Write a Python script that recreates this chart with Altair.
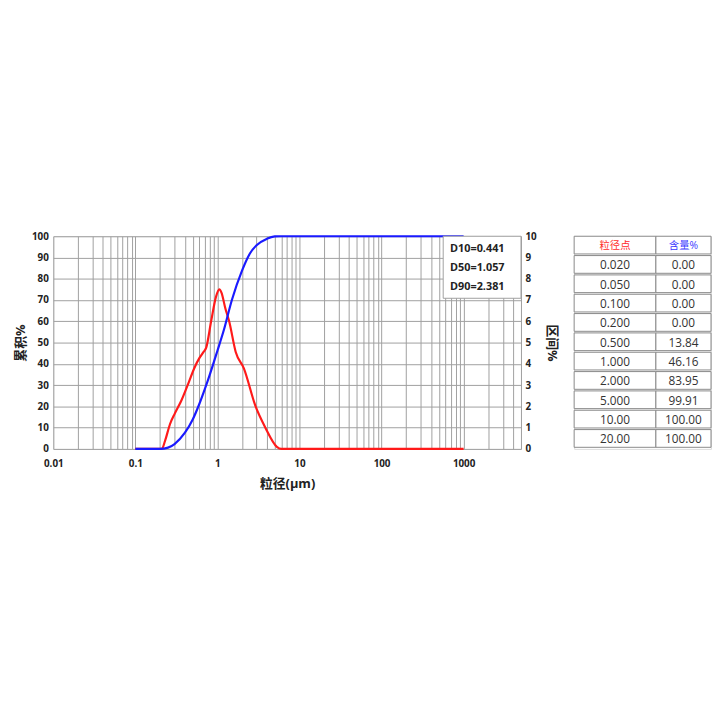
import altair as alt
import pandas as pd
import numpy as np

# ---- data ----
cum_size = [0.1, 0.2, 0.25, 0.3, 0.4, 0.5, 0.6, 0.7, 0.8, 1.0, 1.2, 1.5, 2.0, 2.5, 3.0, 4.0, 5.0, 6.0, 10, 100, 1000]
cum_pct = [0, 0, 0.6, 2.3, 7.5, 13.84, 21, 28, 34.5, 46.16, 56, 70, 83.95, 92, 95.8, 98.8, 99.91, 100, 100, 100, 100]

diff_size = [0.1, 0.2, 0.21, 0.23, 0.264, 0.303, 0.365, 0.44, 0.527, 0.607, 0.665, 0.73, 0.838, 0.96, 1.055,
             1.12, 1.25, 1.39, 1.67, 2.10, 2.91, 3.84, 5.3, 6.0, 10, 100, 1000]
diff_pct = [0, 0, 0, 0.38, 1.16, 1.67, 2.29, 3.06, 3.83, 4.29, 4.52, 4.76, 6.0, 7.15, 7.5,
            7.35, 6.6, 6.0, 4.56, 3.79, 2.01, 1.0, 0.1, 0, 0, 0, 0]

d_labels = ["D10=0.441", "D50=1.057", "D90=2.381"]

table_header = ["粒径点", "含量%"]
table_size = ["0.020", "0.050", "0.100", "0.200", "0.500", "1.000", "2.000", "5.000", "10.00", "20.00"]
table_content = ["0.00", "0.00", "0.00", "0.00", "13.84", "46.16", "83.95", "99.91", "100.00", "100.00"]

# ---- style ----
FONT = "Open Sans, Noto Sans CJK SC, sans-serif"
GRID = "#a0a0a0"
W, H = 475, 216
TW, TH = 139, 216
COL_W = [83, 56]

grid_vals = []
for e in range(-2, 4):
    for m in range(1, 10):
        grid_vals.append(float(f"{m}e{e}"))
grid_vals = [v for v in grid_vals if v <= 5000] + [2000.0, 3000.0, 4000.0, 5000.0]
grid_vals = sorted(set(grid_vals))

xscale = alt.Scale(type="log", domain=[0.01, 5000], nice=False)
xaxis = alt.Axis(values=grid_vals, labelExpr="abs(log(datum.value)/LN10 - round(log(datum.value)/LN10)) < 1e-6 && datum.value <= 1000 ? format(datum.value, '~g') : ''",
                 labelOverlap=False, labelFlush=False, ticks=False, domain=False, grid=True, gridColor=GRID, gridOpacity=1,
                 labelFont=FONT, labelFontWeight="bold", labelFontSize=10, labelPadding=10, labelColor="#222",
                 title="粒径(μm)", titleFont=FONT, titleFontSize=13, titleFontWeight="bold", titleColor="#222", titlePadding=9)

cum_df = pd.DataFrame({"size": cum_size, "pct": cum_pct})
diff_df = pd.DataFrame({"size": diff_size, "pct": diff_pct})

blue_axis = alt.Axis(orient="left", values=list(range(0, 101, 10)), ticks=False, domain=False, grid=True,
                     gridColor=GRID, gridOpacity=1,
                     labelFont=FONT, labelFontWeight="bold", labelFontSize=10, labelPadding=5, labelColor="#222",
                     labelFlush=False,
                     title="累积%", titleFont=FONT, titleFontSize=13, titleFontWeight="bold", titleColor="#222",
                     titlePadding=4)

red = alt.Chart(diff_df).mark_line(color="#ff1a1a", strokeWidth=2.2, interpolate="monotone").encode(
    x=alt.X("size:Q", scale=xscale, axis=xaxis),
    y=alt.Y("pct:Q", scale=alt.Scale(domain=[0, 10], nice=False),
            axis=alt.Axis(orient="right", values=list(range(0, 11)), grid=False, ticks=False, domain=False,
                          labelFont=FONT, labelFontWeight="bold", labelFontSize=10, labelPadding=4, labelColor="#222",
                          labelFlush=False,
                          title="区间%", titleFont=FONT, titleFontSize=13, titleFontWeight="bold", titleColor="#222",
                          titleAngle=90, titlePadding=9)),
)

blue = alt.Chart(cum_df).mark_line(color="#1a1aff", strokeWidth=2.2, interpolate="monotone").encode(
    x=alt.X("size:Q", scale=xscale, axis=xaxis),
    y=alt.Y("pct:Q", scale=alt.Scale(domain=[0, 100], nice=False), axis=blue_axis),
)

box = alt.Chart(pd.DataFrame({"a": [0]})).mark_rect(fill="white", stroke=GRID, strokeWidth=1).encode(
    x=alt.value(396), x2=alt.value(W), y=alt.value(0), y2=alt.value(63))

dtext = alt.Chart(pd.DataFrame({"t": d_labels, "i": [0, 1, 2]})).mark_text(
    align="left", baseline="middle", font=FONT, fontSize=11, fontWeight="bold", color="#222").encode(
    x=alt.value(403), y=alt.value(13), yOffset=alt.YOffset("i:Q", scale=alt.Scale(domain=[0, 1], range=[0, 19.5])),
    text="t:N")

main = alt.layer(red, blue).resolve_scale(y="independent").properties(width=W, height=H)
main = alt.layer(main, box, dtext).properties(width=W, height=H)

# table
rows = []
for c, h in enumerate(table_header):
    rows.append({"row": 0, "x0": sum(COL_W[:c]), "x1": sum(COL_W[:c + 1]), "t": h,
                 "col": ["#ff2a2a", "#3a3aff"][c], "fs": 10.5})
for r, (s, v) in enumerate(zip(table_size, table_content)):
    rows.append({"row": r + 1, "x0": 0, "x1": COL_W[0], "t": s, "col": "#333333", "fs": 12})
    rows.append({"row": r + 1, "x0": COL_W[0], "x1": TW, "t": v, "col": "#333333", "fs": 12})
tdf = pd.DataFrame(rows)
tdf["xm"] = (tdf["x0"] + tdf["x1"]) / 2

tx = alt.Scale(domain=[0, TW], range=[0, TW], nice=False, zero=False)
ty = alt.Scale(domain=list(range(11)), paddingInner=0, paddingOuter=0)
cells = alt.Chart(tdf).mark_rect(fill="white", stroke="#888888", strokeWidth=1).encode(
    x=alt.X("x0:Q", scale=tx, axis=None), x2="x1:Q",
    y=alt.Y("row:O", scale=ty, axis=None))
texts = alt.Chart(tdf).mark_text(font=FONT, baseline="middle", align="center").encode(
    x=alt.X("xm:Q", scale=tx, axis=None),
    y=alt.Y("row:O", scale=ty, axis=None, bandPosition=0.5),
    text="t:N", color=alt.Color("col:N", scale=None), size=alt.Size("fs:Q", scale=None))
table = alt.layer(cells, texts).properties(width=TW, height=TH)

chart = alt.hconcat(main, table, spacing=54, bounds="flush").properties(
    padding={"left": 6, "top": 222, "right": 0, "bottom": 0}
).configure_view(stroke=GRID, strokeWidth=1).configure(background="white")

chart.save("out.html", embed_options={"renderer": "svg", "actions": False})
